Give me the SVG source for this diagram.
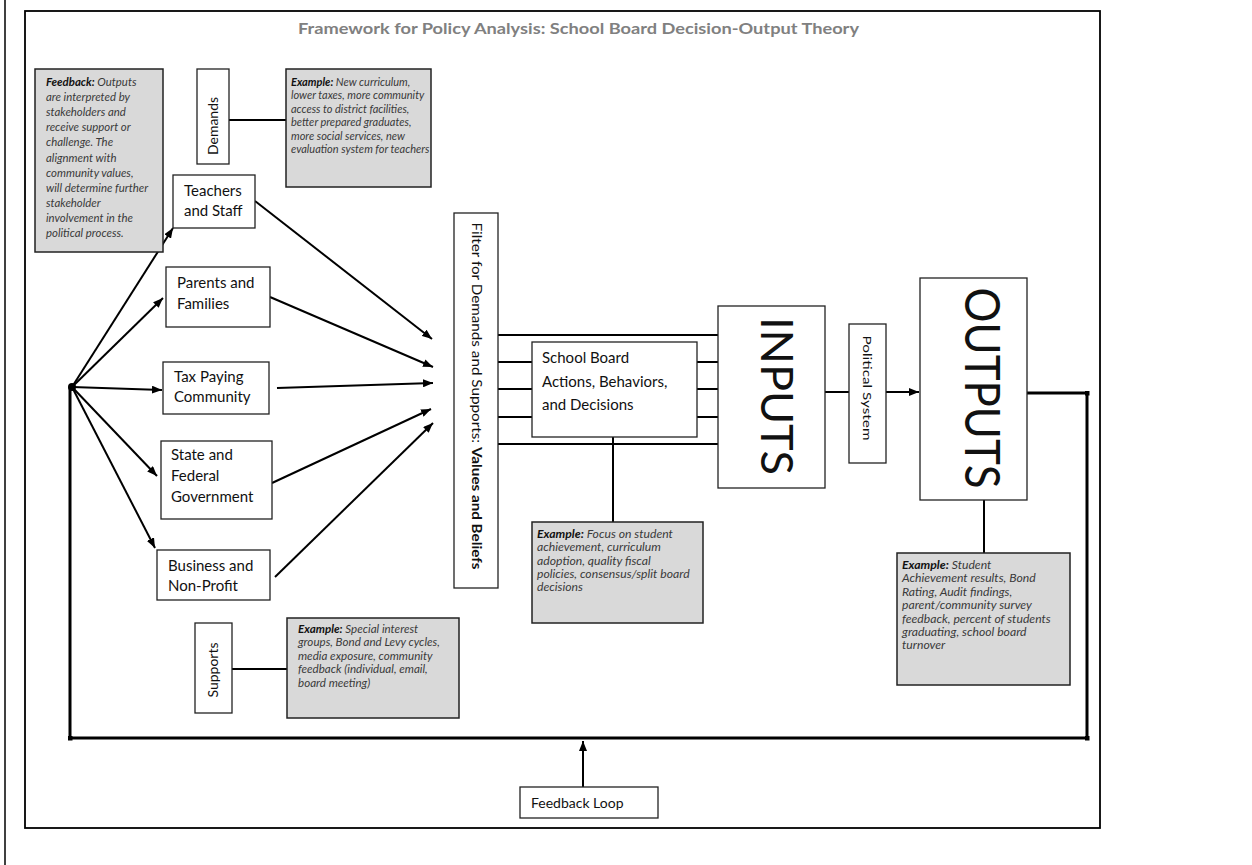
<svg xmlns="http://www.w3.org/2000/svg" width="1252" height="865" viewBox="0 0 1252 865">
  <defs>
    <marker id="arrow" viewBox="0 0 10 8" refX="10" refY="4" markerWidth="10" markerHeight="8" markerUnits="userSpaceOnUse" orient="auto">
      <path d="M0,0 L10,4 L0,8 z" fill="#000"/>
    </marker>
    <marker id="cap" viewBox="0 0 4 4" refX="2" refY="2" markerWidth="5" markerHeight="5" markerUnits="userSpaceOnUse">
      <rect width="4" height="4" fill="#000"/>
    </marker>
  </defs>
  <style>
    .box{fill:#fff;stroke:#222;stroke-width:1.3}
    .note{fill:#d9d9d9;stroke:#222;stroke-width:1.5}
    .lbl{font-family:Lato,"Liberation Sans",sans-serif;font-size:15px;fill:#111}
    .it{font-family:Lato,"Liberation Sans",sans-serif;font-size:11px;font-style:italic;fill:#3a3a3a}
    .it .b{font-weight:bold;fill:#111}
    .wire{stroke:#000;stroke-width:2;fill:none}
    .arr{stroke:#000;stroke-width:2;fill:none;marker-end:url(#arrow)}
    .loop{stroke:#000;stroke-width:3;fill:none}
    .title{font-family:Lato,"Liberation Sans",sans-serif;font-size:15px;font-weight:bold;fill:#808080}
  </style>

  <!-- page frame -->
  <line x1="5" y1="0" x2="5" y2="865" stroke="#000" stroke-width="1.5"/>
  <rect x="25" y="11" width="1075" height="817" fill="none" stroke="#000" stroke-width="1.8"/>

  <text class="title" x="298" y="34" textLength="561" lengthAdjust="spacingAndGlyphs">Framework for Policy Analysis: School Board Decision-Output Theory</text>

  <!-- connectors -->
  <g id="connectors">
    <circle cx="72" cy="387" r="4" fill="#000"/>
    <path class="arr" d="M72,387 L173,228"/>
    <path class="arr" d="M72,387 L163,298"/>
    <path class="arr" d="M72,387 L162,390"/>
    <path class="arr" d="M72,387 L157,476"/>
    <path class="arr" d="M72,387 L155,548"/>

    <path class="arr" d="M255,201 L432,339"/>
    <path class="arr" d="M270,297 L433,367"/>
    <path class="arr" d="M277,388 L433,383"/>
    <path class="arr" d="M272,483 L431,409"/>
    <path class="arr" d="M275,577 L433,423"/>

    <path class="wire" d="M498,335 H718 M498,444 H718 M498,362 H532 M498,389 H532 M498,417 H532 M697,362 H718 M697,389 H718 M697,417 H718"/>
    <path class="wire" d="M613,437 V522"/>
    <path class="wire" d="M825,392 H849"/>
    <path class="arr" d="M886,392 H919"/>
    <path class="wire" d="M984,500 V553"/>
    <path class="wire" d="M229,120 H286"/>
    <path class="wire" d="M232,669 H287"/>

    <!-- feedback loop -->
    <path class="loop" d="M1027,393 H1087 V738" marker-mid="url(#cap)"/>
    <path class="loop" d="M70,387 V738 H1087" marker-mid="url(#cap)" marker-end="url(#cap)"/>
    <path class="arr" d="M583,787 V741"/>
  </g>

  <!-- feedback note -->
  <g id="feedback-note">
    <rect class="note" x="35" y="69" width="128" height="183"/>
    <text class="it" style="font-size:11.4px" y="86">
      <tspan x="46"><tspan class="b">Feedback:</tspan> Outputs</tspan>
      <tspan x="46" dy="15.1">are interpreted by</tspan>
      <tspan x="46" dy="15.1">stakeholders and</tspan>
      <tspan x="46" dy="15.1">receive support or</tspan>
      <tspan x="46" dy="15.1">challenge.  The</tspan>
      <tspan x="46" dy="15.1">alignment with</tspan>
      <tspan x="46" dy="15.1">community values,</tspan>
      <tspan x="46" dy="15.1">will determine further</tspan>
      <tspan x="46" dy="15.1">stakeholder</tspan>
      <tspan x="46" dy="15.1">involvement in the</tspan>
      <tspan x="46" dy="15.1">political process.</tspan>
    </text>
  </g>

  <!-- demands -->
  <g id="demands">
    <rect class="box" x="197" y="69" width="32" height="95"/>
    <text class="lbl" style="font-size:14px" text-anchor="middle" transform="translate(218,126) rotate(-90)">Demands</text>
  </g>
  <g id="demands-example">
    <rect class="note" x="286" y="69" width="145" height="118"/>
    <text class="it" y="86">
      <tspan x="291"><tspan class="b">Example:</tspan> New curriculum,</tspan>
      <tspan x="291" dy="13.4">lower taxes, more community</tspan>
      <tspan x="291" dy="13.4">access to district facilities,</tspan>
      <tspan x="291" dy="13.4">better prepared graduates,</tspan>
      <tspan x="291" dy="13.4">more social services, new</tspan>
      <tspan x="291" dy="13.4">evaluation system for teachers</tspan>
    </text>
  </g>

  <!-- stakeholders -->
  <g id="teachers">
    <rect class="box" x="173" y="175" width="82" height="53"/>
    <text class="lbl" y="196"><tspan x="184">Teachers</tspan><tspan x="184" dy="20">and Staff</tspan></text>
  </g>
  <g id="parents">
    <rect class="box" x="166" y="267" width="104" height="60"/>
    <text class="lbl" y="288"><tspan x="177">Parents and</tspan><tspan x="177" dy="21">Families</tspan></text>
  </g>
  <g id="taxpayers">
    <rect class="box" x="163" y="362" width="106" height="52"/>
    <text class="lbl" y="382"><tspan x="174">Tax Paying</tspan><tspan x="174" dy="20">Community</tspan></text>
  </g>
  <g id="government">
    <rect class="box" x="161" y="441" width="111" height="78"/>
    <text class="lbl" y="460"><tspan x="171">State and</tspan><tspan x="171" dy="21">Federal</tspan><tspan x="171" dy="21">Government</tspan></text>
  </g>
  <g id="business">
    <rect class="box" x="157" y="550" width="113" height="50"/>
    <text class="lbl" y="571"><tspan x="168">Business and</tspan><tspan x="168" dy="20">Non-Profit</tspan></text>
  </g>

  <!-- supports -->
  <g id="supports">
    <rect class="box" x="195" y="623" width="37" height="90"/>
    <text class="lbl" style="font-size:14px" text-anchor="middle" transform="translate(218,670) rotate(-90)">Supports</text>
  </g>
  <g id="supports-example">
    <rect class="note" x="287" y="618" width="172" height="100"/>
    <text class="it" style="font-size:11.6px" y="633">
      <tspan x="298"><tspan class="b">Example:</tspan> Special interest</tspan>
      <tspan x="298" dy="13.4">groups, Bond and Levy cycles,</tspan>
      <tspan x="298" dy="13.4">media exposure, community</tspan>
      <tspan x="298" dy="13.4">feedback (individual, email,</tspan>
      <tspan x="298" dy="13.4">board meeting)</tspan>
    </text>
  </g>

  <!-- filter -->
  <g id="filter">
    <rect class="box" x="454" y="213" width="44" height="375"/>
    <text class="lbl" style="font-size:14px" text-anchor="middle" textLength="347" lengthAdjust="spacingAndGlyphs" transform="translate(472,396) rotate(90)">Filter for Demands and Supports: <tspan font-weight="bold">Values and Beliefs</tspan></text>
  </g>

  <!-- school board -->
  <g id="school-board">
    <rect class="box" x="532" y="342" width="165" height="95"/>
    <text class="lbl" y="363"><tspan x="542">School Board</tspan><tspan x="542" dy="23.5">Actions, Behaviors,</tspan><tspan x="542" dy="23.5">and Decisions</tspan></text>
  </g>
  <g id="board-example">
    <rect class="note" x="532" y="522" width="171" height="101"/>
    <text class="it" style="font-size:12.2px" y="538">
      <tspan x="537"><tspan class="b">Example:</tspan> Focus on student</tspan>
      <tspan x="537" dy="13.3">achievement, curriculum</tspan>
      <tspan x="537" dy="13.3">adoption, quality fiscal</tspan>
      <tspan x="537" dy="13.3">policies, consensus/split board</tspan>
      <tspan x="537" dy="13.3">decisions</tspan>
    </text>
  </g>

  <!-- inputs -->
  <g id="inputs">
    <rect class="box" x="718" y="306" width="107" height="182"/>
    <text class="lbl" style="font-size:44px" text-anchor="middle" textLength="158" lengthAdjust="spacingAndGlyphs" transform="translate(761,396) rotate(90)">INPUTS</text>
  </g>

  <!-- political system -->
  <g id="political-system">
    <rect class="box" x="849" y="324" width="37" height="139"/>
    <text class="lbl" style="font-size:12px" text-anchor="middle" textLength="105" lengthAdjust="spacingAndGlyphs" transform="translate(863,388) rotate(90)">Political System</text>
  </g>

  <!-- outputs -->
  <g id="outputs">
    <rect class="box" x="920" y="278" width="107" height="222"/>
    <text class="lbl" style="font-size:48px" text-anchor="middle" textLength="201" lengthAdjust="spacingAndGlyphs" transform="translate(965,388) rotate(90)">OUTPUTS</text>
  </g>
  <g id="outputs-example">
    <rect class="note" x="897" y="553" width="173" height="132"/>
    <text class="it" style="font-size:12.2px" y="569">
      <tspan x="902"><tspan class="b">Example:</tspan> Student</tspan>
      <tspan x="902" dy="13.4">Achievement results, Bond</tspan>
      <tspan x="902" dy="13.4">Rating, Audit findings,</tspan>
      <tspan x="902" dy="13.4">parent/community survey</tspan>
      <tspan x="902" dy="13.4">feedback, percent of students</tspan>
      <tspan x="902" dy="13.4">graduating, school board</tspan>
      <tspan x="902" dy="13.4">turnover</tspan>
    </text>
  </g>

  <!-- feedback loop label -->
  <g id="feedback-loop">
    <rect class="box" x="520" y="787" width="138" height="31"/>
    <text class="lbl" style="font-size:14px" x="531" y="808">Feedback Loop</text>
  </g>
</svg>
